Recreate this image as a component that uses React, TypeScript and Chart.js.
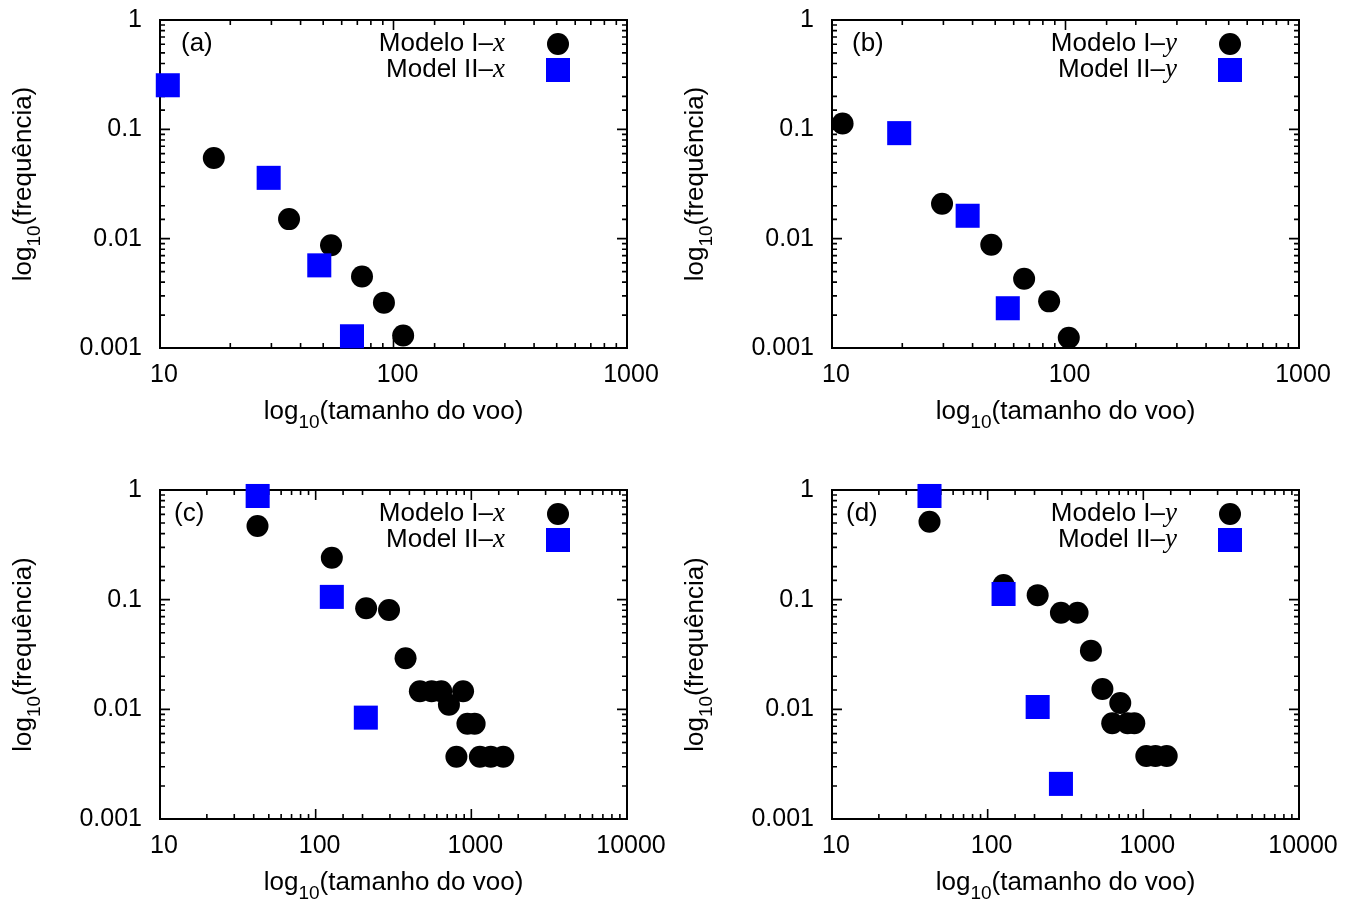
import React, { useEffect, useRef } from 'react';
import { Chart, registerables } from 'chart.js';

Chart.register(...registerables);

// ---------- data ----------
// Panel (a): x-direction, short flights
const aModelIX = [17.0, 35.7, 54.0, 73.3, 91.0, 110];
const aModelIY = [0.0546, 0.0151, 0.0087, 0.0045, 0.0026, 0.0013];
const aModelIIX = [10.8, 29.2, 48.1, 66.4];
const aModelIIY = [0.253, 0.036, 0.0057, 0.00128];

// Panel (b): y-direction, short flights
const bModelIX = [11.1, 29.6, 48.1, 66.5, 85.1, 103.3];
const bModelIY = [0.113, 0.0209, 0.0088, 0.0043, 0.00267, 0.00124];
const bModelIIX = [19.4, 38.1, 56.6];
const bModelIIY = [0.0923, 0.0162, 0.00231];

// Panel (c): x-direction, long flights
const cModelIX = [42.3, 127, 211, 296, 378, 467, 556, 641, 718, 802, 885, 944, 1050, 1135, 1333, 1604];
const cModelIY = [0.47, 0.241, 0.0835, 0.0805, 0.0292, 0.0146, 0.0146, 0.0146, 0.011, 0.0037, 0.0146, 0.0074, 0.0074, 0.0037, 0.0037, 0.0037];
const cModelIIX = [42.4, 127, 210];
const cModelIIY = [0.882, 0.106, 0.0084];

// Panel (d): y-direction, long flights
const dModelIX = [42.3, 126.5, 209.5, 295.6, 378, 460.6, 546, 631, 711, 793, 875, 1045, 1196, 1413];
const dModelIY = [0.514, 0.136, 0.11, 0.076, 0.076, 0.0343, 0.0153, 0.00747, 0.0114, 0.00747, 0.00747, 0.00376, 0.00376, 0.00376];
const dModelIIX = [42.3, 126.5, 209.5, 295.6];
const dModelIIY = [0.882, 0.1127, 0.0105, 0.00209];

const yMin = 0.001;
const yMax = 1;
const xMinAll = 10;
const xMaxTop = 1000;
const xMaxBottom = 10000;

const legendModelI = 'Modelo I–';
const legendModelII = 'Model II–';
const xTitleRest = '(tamanho do voo)';
const yTitleRest = '(frequência)';

const SANS = "'Liberation Sans', Arial, Helvetica, sans-serif";
const SERIF = "'Liberation Serif', 'Times New Roman', serif";

const isPow10 = (v: number) => {
  const l = Math.log10(v);
  return Math.abs(l - Math.round(l)) < 1e-6;
};
const fmtPow10 = (v: number) => {
  if (v >= 1) return String(Math.round(v));
  return String(Number(v.toPrecision(1)));
};

type Spec = {
  key: string;
  label: string;
  variable: string;
  circX: number[];
  circY: number[];
  sqX: number[];
  sqY: number[];
  xMax: number;
  left: number;
  top: number;
  w: number;
  h: number;
  plotL: number;
  plotR: number;
  plotT: number;
  plotB: number;
  labelDx: number;
};

const specs: Spec[] = [
  { key: 'a', label: '(a)', variable: 'x', circX: aModelIX, circY: aModelIY, sqX: aModelIIX, sqY: aModelIIY, xMax: xMaxTop,
    left: 0, top: 0, w: 677, h: 451, plotL: 160, plotR: 627, plotT: 20, plotB: 348, labelDx: 21 },
  { key: 'b', label: '(b)', variable: 'y', circX: bModelIX, circY: bModelIY, sqX: bModelIIX, sqY: bModelIIY, xMax: xMaxTop,
    left: 677, top: 0, w: 678, h: 451, plotL: 155, plotR: 622, plotT: 20, plotB: 348, labelDx: 20 },
  { key: 'c', label: '(c)', variable: 'x', circX: cModelIX, circY: cModelIY, sqX: cModelIIX, sqY: cModelIIY, xMax: xMaxBottom,
    left: 0, top: 451, w: 677, h: 452, plotL: 160, plotR: 627, plotT: 39, plotB: 368, labelDx: 14 },
  { key: 'd', label: '(d)', variable: 'y', circX: dModelIX, circY: dModelIY, sqX: dModelIIX, sqY: dModelIIY, xMax: xMaxBottom,
    left: 677, top: 451, w: 678, h: 452, plotL: 155, plotR: 622, plotT: 39, plotB: 368, labelDx: 14 },
];

function drawSubTitle(ctx: CanvasRenderingContext2D, x: number, y: number, rest: string, rotate: boolean) {
  ctx.save();
  ctx.translate(x, y);
  if (rotate) ctx.rotate(-Math.PI / 2);
  const big = `26px ${SANS}`;
  const small = `19px ${SANS}`;
  ctx.font = big;
  const w1 = ctx.measureText('log').width;
  const w3 = ctx.measureText(rest).width;
  ctx.font = small;
  const w2 = ctx.measureText('10').width;
  let cx = -(w1 + w2 + w3) / 2;
  ctx.fillStyle = '#000';
  ctx.textAlign = 'left';
  ctx.textBaseline = 'alphabetic';
  ctx.font = big;
  ctx.fillText('log', cx, 0);
  cx += w1;
  ctx.font = small;
  ctx.fillText('10', cx, 9);
  cx += w2;
  ctx.font = big;
  ctx.fillText(rest, cx, 0);
  ctx.restore();
}

function makePlugin(spec: Spec) {
  return {
    id: 'frame-' + spec.key,
    beforeDatasetsDraw(chart: any) {
      const { ctx, chartArea: a, scales } = chart;
      ctx.save();
      ctx.strokeStyle = '#000';
      ctx.lineWidth = 1.6;
      ctx.beginPath();
      for (const t of scales.x.ticks) {
        const px = scales.x.getPixelForValue(t.value);
        const len = isPow10(t.value) ? 10 : 5;
        ctx.moveTo(px, a.bottom);
        ctx.lineTo(px, a.bottom - len);
        ctx.moveTo(px, a.top);
        ctx.lineTo(px, a.top + len);
      }
      for (const t of scales.y.ticks) {
        const py = scales.y.getPixelForValue(t.value);
        const len = isPow10(t.value) ? 10 : 5;
        ctx.moveTo(a.left, py);
        ctx.lineTo(a.left + len, py);
        ctx.moveTo(a.right, py);
        ctx.lineTo(a.right - len, py);
      }
      ctx.stroke();
      ctx.lineWidth = 2;
      ctx.strokeRect(a.left, a.top, a.right - a.left, a.bottom - a.top);
      ctx.restore();
    },
    afterDraw(chart: any) {
      const { ctx, chartArea: a } = chart;
      ctx.save();
      // panel label
      ctx.fillStyle = '#000';
      ctx.font = `26px ${SANS}`;
      ctx.textAlign = 'left';
      ctx.textBaseline = 'middle';
      ctx.fillText(spec.label, a.left + spec.labelDx, a.top + 24);
      // legend
      const textRight = a.left + 345;
      const markX = a.left + 398;
      const rows = [
        { text: legendModelI, y: a.top + 24, kind: 'circle' },
        { text: legendModelII, y: a.top + 50, kind: 'square' },
      ];
      for (const r of rows) {
        ctx.font = `italic 27px ${SERIF}`;
        const vw = ctx.measureText(spec.variable).width;
        ctx.textAlign = 'left';
        ctx.fillStyle = '#000';
        ctx.fillText(spec.variable, textRight - vw, r.y);
        ctx.font = `26px ${SANS}`;
        ctx.textAlign = 'right';
        ctx.fillText(r.text, textRight - vw, r.y);
        if (r.kind === 'circle') {
          ctx.beginPath();
          ctx.arc(markX, r.y, 11, 0, Math.PI * 2);
          ctx.fillStyle = '#000';
          ctx.fill();
        } else {
          ctx.fillStyle = '#0000ff';
          ctx.fillRect(markX - 12, r.y - 12, 24, 24);
        }
      }
      ctx.restore();
      // axis titles
      drawSubTitle(ctx, (a.left + a.right) / 2, a.bottom + 71, xTitleRest, false);
      drawSubTitle(ctx, a.left - 129, (a.top + a.bottom) / 2, yTitleRest, true);
    },
  };
}

function Panel({ spec }: { spec: Spec }) {
  const ref = useRef<HTMLCanvasElement | null>(null);
  useEffect(() => {
    if (!ref.current) return;
    const circPts = spec.circX.map((x, i) => ({ x, y: spec.circY[i] }));
    const sqPts = spec.sqX.map((x, i) => ({ x, y: spec.sqY[i] }));
    const tickFont = { family: SANS, size: 25 };
    const chart = new Chart(ref.current, {
      type: 'scatter',
      data: {
        datasets: [
          {
            label: legendModelI + spec.variable,
            data: circPts,
            pointStyle: 'circle',
            pointRadius: 11,
            pointHoverRadius: 11,
            backgroundColor: '#000000',
            borderWidth: 0,
            clip: false,
            order: 1,
          } as any,
          {
            label: legendModelII + spec.variable,
            data: sqPts,
            pointStyle: 'rect',
            pointRadius: 17,
            pointHoverRadius: 17,
            backgroundColor: '#0000ff',
            borderWidth: 0,
            clip: false,
            order: 0,
          } as any,
        ],
      },
      options: {
        responsive: false,
        animation: false,
        events: [],
        layout: { padding: { left: 0, top: spec.plotT, right: spec.w - spec.plotR, bottom: 0 } },
        plugins: { legend: { display: false }, tooltip: { enabled: false } },
        scales: {
          x: {
            type: 'logarithmic',
            min: xMinAll,
            max: spec.xMax,
            grid: { display: false, drawTicks: false },
            border: { display: false },
            ticks: {
              autoSkip: false,
              maxRotation: 0,
              minRotation: 0,
              padding: 12,
              labelOffset: 4,
              color: '#000',
              font: tickFont,
              callback: (v: any) => (isPow10(Number(v)) ? fmtPow10(Number(v)) : ''),
            },
            afterFit: (s: any) => {
              s.height = spec.h - spec.plotB;
              s.paddingLeft = 0;
              s.paddingRight = 0;
              s.paddingTop = 0;
              s.paddingBottom = 0;
            },
          },
          y: {
            type: 'logarithmic',
            min: yMin,
            max: yMax,
            grid: { display: false, drawTicks: false },
            border: { display: false },
            ticks: {
              autoSkip: false,
              padding: 18,
              color: '#000',
              font: tickFont,
              callback: (v: any) => (isPow10(Number(v)) ? fmtPow10(Number(v)) : ''),
            },
            afterFit: (s: any) => {
              s.width = spec.plotL;
              s.paddingLeft = 0;
              s.paddingRight = 0;
              s.paddingTop = 0;
              s.paddingBottom = 0;
            },
          },
        },
      } as any,
      plugins: [makePlugin(spec)],
    });
    return () => chart.destroy();
  }, [spec]);
  return (
    <canvas
      ref={ref}
      width={spec.w}
      height={spec.h}
      style={{ position: 'absolute', left: spec.left, top: spec.top, width: spec.w, height: spec.h }}
    />
  );
}

export default function App() {
  return (
    <div style={{ position: 'absolute', left: 0, top: 0, width: 1355, height: 903, background: '#fff', overflow: 'hidden' }}>
      {specs.map((s) => (
        <Panel key={s.key} spec={s} />
      ))}
    </div>
  );
}
